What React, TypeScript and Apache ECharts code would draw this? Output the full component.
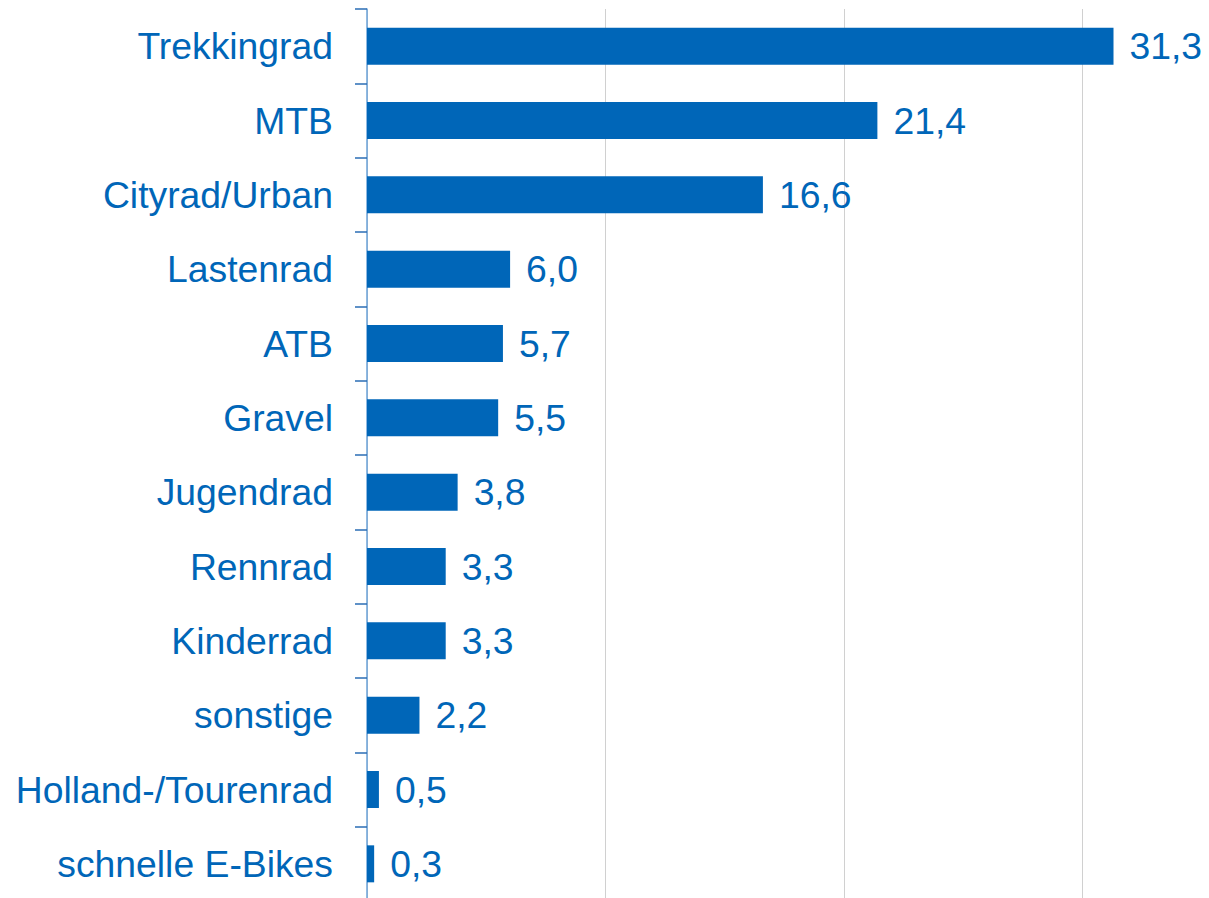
import React, { useEffect, useRef } from "react";
import * as echarts from "echarts";

const categories = [
  "Trekkingrad",
  "MTB",
  "Cityrad/Urban",
  "Lastenrad",
  "ATB",
  "Gravel",
  "Jugendrad",
  "Rennrad",
  "Kinderrad",
  "sonstige",
  "Holland-/Tourenrad",
  "schnelle E-Bikes",
];
const values = [31.3, 21.4, 16.6, 6.0, 5.7, 5.5, 3.8, 3.3, 3.3, 2.2, 0.5, 0.3];

const BLUE = "#0066b8";
const FONT = "Liberation Sans, Arial, sans-serif";

export default function App() {
  const ref = useRef<HTMLDivElement>(null);
  useEffect(() => {
    if (!ref.current) return;
    const chart = echarts.init(ref.current, null, { renderer: "svg" });
    chart.setOption({
      animation: false,
      grid: { left: 367, top: 9, right: 0, bottom: 0, containLabel: false },
      xAxis: {
        type: "value",
        min: 0,
        max: 40,
        interval: 10,
        axisLabel: { show: false },
        axisLine: { show: false },
        axisTick: { show: false },
        splitLine: { show: true, lineStyle: { color: "#d0d0d0", width: 1 } },
      },
      yAxis: {
        type: "category",
        data: categories,
        inverse: true,
        axisLine: { show: true, lineStyle: { color: "#6aa2d8", width: 1.5 } },
        axisTick: { show: true, length: 12, lineStyle: { color: "#2a6db5", width: 1.5 } },
        axisLabel: {
          color: BLUE,
          fontSize: 37.3,
          fontFamily: FONT,
          margin: 34,
        },
      },
      series: [
        {
          type: "bar",
          data: values,
          barWidth: 37,
          itemStyle: { color: BLUE },
          label: {
            show: true,
            position: "right",
            distance: 16,
            color: BLUE,
            fontSize: 37.3,
            fontFamily: FONT,
            formatter: (p: any) => Number(p.value).toFixed(1).replace(".", ","),
          },
        },
      ],
    });
    return () => chart.dispose();
  }, []);
  return (
    <div
      style={{
        position: "fixed",
        left: 0,
        top: 0,
        width: 1209,
        height: 898,
        overflow: "hidden",
        background: "#fff",
      }}
    >
      <div ref={ref} style={{ width: 1321, height: 901 }} />
    </div>
  );
}
